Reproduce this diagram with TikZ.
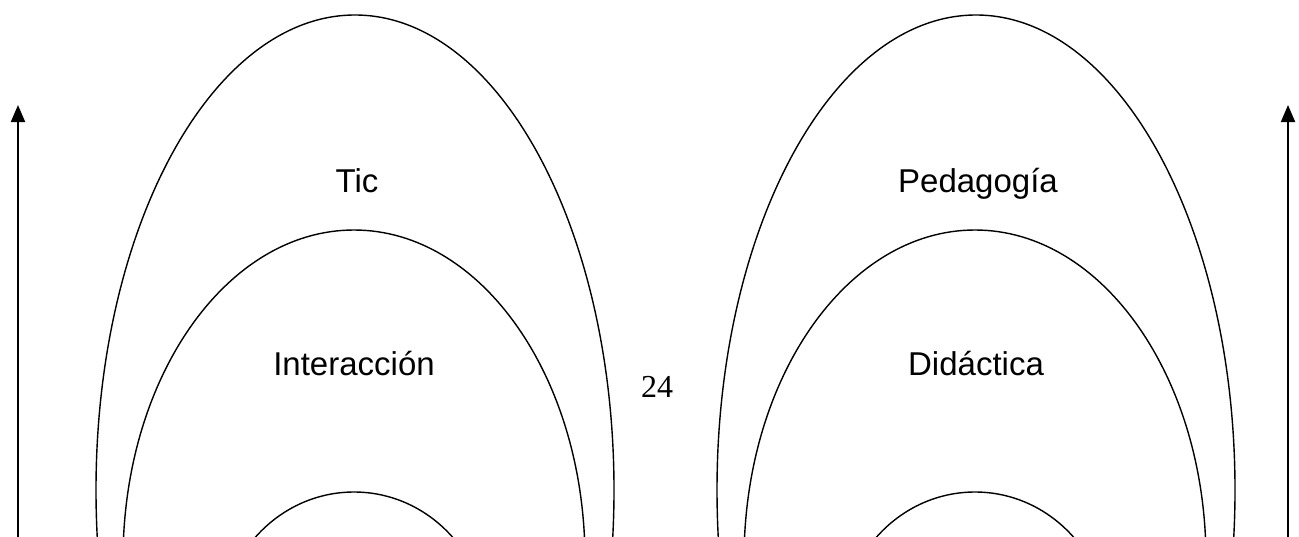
\documentclass[tikz,border=0pt]{standalone}
\usepackage{fontspec}
\setmainfont{Liberation Sans}
\newfontfamily\pagenum{Liberation Serif}
\usetikzlibrary{arrows.meta,positioning,shapes.geometric}

\begin{document}
\begin{tikzpicture}[x=0.5pt,y=-0.5pt,font=\fontsize{16.5}{19}\selectfont,
  ring/.style={draw,ellipse,line width=0.7pt,inner sep=0pt},
  lbl/.style={anchor=base,inner sep=0pt},
  arr/.style={-{Triangle[length=8.5pt,width=7pt]},line width=1pt}]
  \useasboundingbox (0,0) rectangle (1299,536);
  \clip (0,0) rectangle (1299,536);
  % left rings
  \node[ring,minimum width=259pt,minimum height=475pt] (tic) at (355,490) {};
  \node[ring,minimum width=231pt,minimum height=330pt] (inter) at (354,560) {};
  \node[ring,minimum width=134pt,minimum height=140pt] (ticcore) at (354,632) {};
  \node[lbl] (tictxt) at (357,192) {Tic};
  \node[lbl] (intertxt) at (354,375) {Interacción};
  % right rings
  \node[ring,minimum width=259pt,minimum height=475pt] (peda) at (976,490) {};
  \node[ring,minimum width=231pt,minimum height=330pt] (dida) at (975,560) {};
  \node[ring,minimum width=134pt,minimum height=140pt] (didacore) at (975,632) {};
  \node[lbl] (pedatxt) at (978,192) {Pedagogía};
  \node[lbl] (didatxt) at (976,375) {Didáctica};
  % page number
  \node[lbl,font=\pagenum\fontsize{16}{19}\selectfont] (pnum) at (657,397) {24};
  % side arrows
  \coordinate (lfoot) at (18,540);
  \coordinate (ltip) at (18,105);
  \coordinate (rfoot) at (1288,540);
  \coordinate (rtip) at (1288,105);
  \draw[arr] (lfoot) -- (ltip);
  \draw[arr] (rfoot) -- (rtip);
\end{tikzpicture}
\end{document}
